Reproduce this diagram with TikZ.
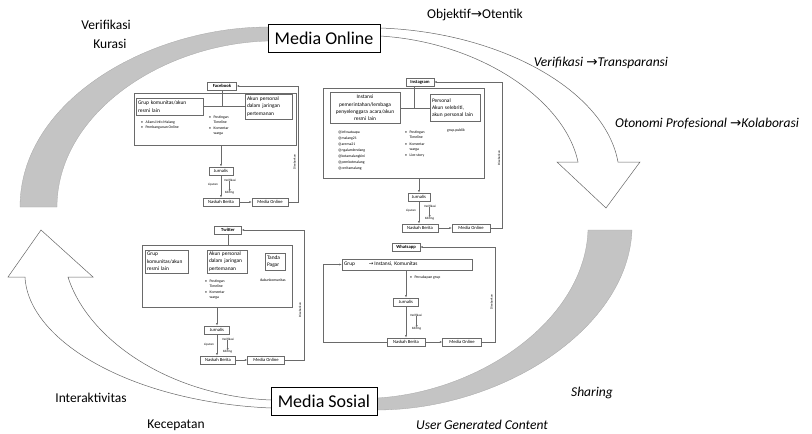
\documentclass[tikz,border=0pt]{standalone}
\usepackage{fontspec}
\setmainfont{Carlito}
\newfontfamily\arrowfont{DejaVu Sans}
\usepackage{tikz}
\usetikzlibrary{shapes,arrows,arrows.meta,positioning,calc}
\definecolor{crescent}{HTML}{C4C4C4}
\definecolor{panelline}{HTML}{6A6A6A}
\newcommand{\hubfont}{\fontsize{18}{20}\selectfont}
\newcommand{\sidefont}{\fontsize{13.5}{15}\selectfont}
\newcommand{\boxfont}{\fontsize{4.6}{5.5}\selectfont}
\newcommand{\accfont}{\fontsize{5.4}{7.4}\selectfont}
\newcommand{\bulletfont}{\fontsize{3.8}{4.9}\selectfont}
\newcommand{\tagfont}{\fontsize{3.2}{4}\selectfont}
\newcommand{\sto}{{\arrowfont →}}
\newcommand{\bitem}{\textbullet\hspace{2.5pt}}
\newcommand{\bcont}{\hphantom{\textbullet\hspace{2.5pt}}}
\tikzstyle{hub} = [rectangle, draw, line width=0.8pt, fill=white, font=\hubfont, minimum height=28pt]
\tikzstyle{pbox} = [rectangle, draw=panelline, line width=0.4pt, fill=white, font=\boxfont, inner sep=1pt, minimum height=8.5pt]
\tikzstyle{sitebox} = [pbox, font=\boxfont\bfseries]
\tikzstyle{accbox} = [rectangle, draw=panelline, line width=0.4pt, fill=white, font=\accfont, align=left, inner sep=2pt]
\tikzstyle{panelframe} = [rectangle, draw=panelline, line width=0.4pt]
\tikzstyle{smalltext} = [font=\bulletfont, align=left, inner sep=0pt]
\tikzstyle{flowtag} = [font=\tagfont, inner sep=0pt]
\tikzstyle{vlabel} = [flowtag, rotate=90]
\tikzstyle{sidelabel} = [font=\sidefont, inner sep=0pt]
\tikzstyle{line} = [draw=panelline, line width=0.4pt, -{Latex[length=2.4pt,width=2pt]}]
\tikzstyle{link} = [draw=panelline, line width=0.4pt]
\tikzstyle{bigarrow} = [draw=black!60, line width=0.5pt, fill=white]
\tikzstyle{grayarc} = [fill=crescent, draw=crescent!85!black, line width=0.3pt]

\begin{document}
\begin{tikzpicture}[x=1pt, y=-1pt]
    \useasboundingbox (0,0) rectangle (812,434);

    % big cycle
    \path [grayarc] (20,207) .. controls (20,100) and (150,27) .. (268,27) -- (268,41)
        .. controls (160,44) and (57,115) .. (57,207) -- cycle;
    \path [bigarrow] (380,28) .. controls (500,32) and (605,90) .. (618,162) -- (640,162) -- (606,208)
        -- (557,162) -- (578,162) .. controls (565,100) and (480,42) .. (380,36);
    \path [grayarc] (588,230) -- (632,230) .. controls (628,330) and (500,410) .. (377,410) -- (377,398)
        .. controls (480,392) and (585,320) .. (588,230) -- cycle;
    \path [bigarrow] (271,408) .. controls (130,402) and (28,340) .. (25,277) -- (8,277) -- (41,230)
        -- (93,277) -- (68,277) .. controls (88,340) and (170,396) .. (271,400);

    \node [hub, minimum width=112pt] (online) at (324,38) {Media Online};
    \node [hub, minimum width=106pt] (sosial) at (324,401) {Media Sosial};

    % labels round the cycle
    \node [sidelabel] (verif) at (106,25) {Verifikasi};
    \node [sidelabel] (kurasi) at (110,44) {Kurasi};
    \node [sidelabel] (objektif) at (475,15) {Objektif\sto Otentik};
    \node [sidelabel, font=\sidefont\itshape] (transp) at (601,63) {Verifikasi \sto Transparansi};
    \node [sidelabel, font=\sidefont\itshape] (otonomi) at (707,124) {Otonomi Profesional \sto Kolaborasi};
    \node [sidelabel] (interaktif) at (91,398) {Interaktivitas};
    \node [sidelabel] (kecepatan) at (176,425) {Kecepatan};
    \node [sidelabel, font=\sidefont\itshape] (sharing) at (592,393) {Sharing};
    \node [sidelabel, font=\sidefont\itshape] (ugc) at (482,425) {User Generated Content};

    % Facebook
    \node [sitebox, minimum width=29pt] (fb) at (222,86) {Facebook};
    \node [panelframe, minimum width=162pt, minimum height=52pt] (fbframe) at (215,119) {};
    \node [accbox, text width=63pt, minimum height=17pt] (fbgrp) at (169.5,106.5) {Grup komunitas/akun\\resmi lain};
    \node [accbox, text width=43pt, minimum height=25pt] (fbpers) at (268.5,106.5) {Akun personal\\dalam jaringan\\pertemanan};
    \draw [link] (fbgrp.east) -- (fbpers.west);
    \draw [link] (fb.south) -- (fb.south |- fbgrp.east);
    \node [smalltext, anchor=north west] (fbtags) at (141,120.5) {\bitem Aliansi Info Malang\\\bitem Pembangunan Online};
    \node [smalltext, anchor=north west] (fbpost) at (209,115.5) {\bitem Postingan\\\bcont Timeline\\[1.5pt]\bitem Komentar\\\bcont warga};
    \node [pbox, minimum width=24pt] (fbjur) at (221,171) {Jurnalis};
    \node [pbox, minimum width=36pt] (fbnas) at (221,202) {Naskah Berita};
    \node [pbox, minimum width=36pt] (fbmed) at (270,202) {Media Online};
    \node [flowtag, anchor=east] (fbliput) at (218,185) {Liputan};
    \node [flowtag, anchor=west] (fbver) at (224,180) {Verifikasi};
    \node [flowtag, anchor=west] (fbedit) at (225,193) {Editing};
    \draw [line] (fbjur |- fbframe.south) -- (fbjur);
    \draw [line] (fbjur) -- (fbnas);
    \draw [line] (fbver.south -| fbedit) -- (fbedit.north -| fbedit);
    \draw [line] (fbnas) -- (fbmed);
    \draw [line] (fbmed.east) -- ++(10,0) |- (fb.east);
    \node [vlabel] (fbdis) at (294.5,162) {Disebarkan};

    % Instagram
    \node [sitebox, minimum width=28pt] (ig) at (420,82) {Instagram};
    \node [panelframe, minimum width=161pt, minimum height=90pt] (igframe) at (403.5,133) {};
    \node [accbox, align=center, text width=66pt, minimum height=31pt, inner ysep=0.8pt] (iggov) at (365,108) {Instansi\\pemerintahan/lembaga\\penyelenggara acara/akun\\resmi lain};
    \node [accbox, text width=46pt, minimum height=27pt] (igpers) at (455,108) {Personal\\Akun selebriti,\\akun personal lain};
    \draw [link] (iggov.east) -- (igpers.west);
    \draw [link] ([xshift=-6pt]ig.south) -- ([xshift=-6pt]ig.south |- iggov.east);
    \node [smalltext, font=\fontsize{3.8}{6.1}\selectfont, anchor=north west] (igtags) at (338,130.5)
        {@infosatuapa\\@malang21\\@arema21\\@ngalamlendang\\@kotamalangkini\\@pemkotmalang\\@ceritamalang};
    \node [smalltext, anchor=north west] (igpost) at (405,131) {\bitem Postingan\\\bcont Timeline\\[1.5pt]\bitem Komentar\\\bcont warga\\[1.5pt]\bitem Live story};
    \node [smalltext] (igpub) at (456,131) {grup.publik};
    \node [pbox, minimum width=22pt] (igjur) at (419,197) {Jurnalis};
    \node [pbox, minimum width=36pt] (ignas) at (420,228) {Naskah Berita};
    \node [pbox, minimum width=38pt] (igmed) at (471,228) {Media Online};
    \node [flowtag, anchor=east] (igliput) at (416,211) {Liputan};
    \node [flowtag, anchor=west] (igver) at (424,206) {Verifikasi};
    \node [flowtag, anchor=west] (igedit) at (425,219) {Editing};
    \draw [line] (igjur |- igframe.south) -- (igjur);
    \draw [line] (igjur) -- (igjur |- ignas.north);
    \draw [line] (igver.south -| igedit) -- (igedit.north -| igedit);
    \draw [line] (ignas) -- (igmed);
    \draw [line] (igmed.east) -- ++(12,0) |- (ig.east);
    \node [vlabel] (igdis) at (499,158) {Disebarkan};

    % Twitter
    \node [sitebox, minimum width=27pt] (tw) at (228,230) {Twitter};
    \node [panelframe, minimum width=150pt, minimum height=62pt] (twframe) at (217,276) {};
    \draw [link] (tw.south) -- (tw.south |- twframe.north);
    \node [accbox, text width=39pt, minimum height=23pt] (twgrp) at (166.5,261.5) {Grup\\komunitas/akun\\resmi lain};
    \node [accbox, text width=36pt, minimum height=23pt] (twpers) at (227,261.5) {Akun personal\\dalam jaringan\\pertemanan};
    \node [accbox, text width=16pt, minimum height=17pt] (twtag) at (275,261.5) {Tanda\\Pagar};
    \node [smalltext] (twhash) at (273,280) {\#akunkomunitas};
    \node [smalltext, anchor=north west] (twpost) at (205,279.5) {\bitem Postingan\\\bcont Timeline\\[1.5pt]\bitem Komentar\\\bcont warga};
    \node [pbox, minimum width=25pt] (twjur) at (217,330) {Jurnalis};
    \node [pbox, minimum width=35pt] (twnas) at (218,360) {Naskah Berita};
    \node [pbox, minimum width=37pt] (twmed) at (266,360) {Media Online};
    \node [flowtag, anchor=east] (twliput) at (214,345) {Liputan};
    \node [flowtag, anchor=west] (twver) at (222,339) {Verifikasi};
    \node [flowtag, anchor=west] (twedit) at (223,352) {Editing};
    \draw [line] (twjur |- twframe.south) -- (twjur);
    \draw [line] (twjur) -- (twjur |- twnas.north);
    \draw [line] (twver.south -| twedit) -- (twedit.north -| twedit);
    \draw [line] (twnas) -- (twmed);
    \draw [line] (twmed.east) -- ++(19.5,0) |- (tw.east);
    \node [vlabel] (twdis) at (300,310) {Disebarkan};

    % Whatsapp
    \node [sitebox, minimum width=28pt] (wa) at (406,247) {Whatsapp};
    \node [accbox, text width=126pt, minimum height=11pt, inner ysep=1pt] (wagrp) at (407,264.5)
        {Grup\hspace{14pt}\sto\,Instansi, Komunitas};
    \node [smalltext, anchor=west] (wachat) at (410,278) {\bitem Percakapan grup};
    \node [pbox, minimum width=25pt] (wajur) at (406,302) {Jurnalis};
    \node [pbox, minimum width=38pt] (wanas) at (406,342) {Naskah Berita};
    \node [pbox, minimum width=39pt] (wamed) at (462,342) {Media Online};
    \node [flowtag, anchor=west] (waver) at (410,315) {Verifikasi};
    \node [flowtag, anchor=west] (waedit) at (412,329) {Editing};
    \draw [line] (wajur |- wagrp.south) -- (wajur);
    \draw [line] (wajur) -- (wanas);
    \draw [line] (waver.south -| waedit) -- (waedit.north -| waedit);
    \draw [line] (wanas) -- (wamed);
    \draw [line] (wamed.east) -- ++(13.5,0) |- (wa.east);
    \draw [line] (wanas.west) -- ++(-64,0) |- (wagrp.west);
    \node [vlabel] (wadis) at (491.5,302) {Disebarkan};

\end{tikzpicture}
\end{document}
